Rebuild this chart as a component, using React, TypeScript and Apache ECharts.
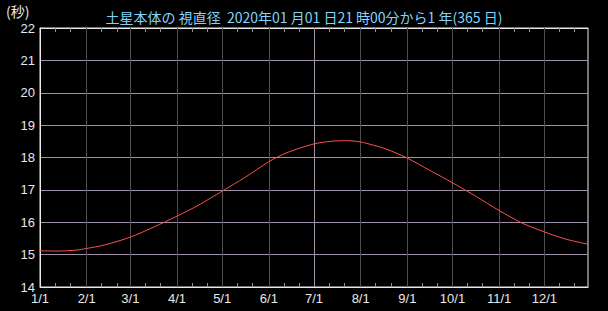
import React, { useEffect, useRef } from "react";
import * as echarts from "echarts";

// Days after 2020-01-01 21:00 and Saturn's apparent diameter (arcsec)
const dayOffsets = [0, 12, 24, 31, 43, 60, 76, 91, 105, 121, 136, 152, 164, 182, 193, 203, 213, 230, 244, 259, 274, 290, 305, 320, 335, 350, 364];
const diameterArcsec = [15.12, 15.11, 15.14, 15.19, 15.30, 15.54, 15.86, 16.19, 16.52, 16.96, 17.38, 17.87, 18.15, 18.42, 18.50, 18.52, 18.48, 18.26, 17.98, 17.60, 17.22, 16.79, 16.36, 15.98, 15.70, 15.47, 15.32];

const monthStartDays = [0, 31, 60, 91, 121, 152, 182, 213, 244, 274, 305, 335];
const monthLabels = ["1/1", "2/1", "3/1", "4/1", "5/1", "6/1", "7/1", "8/1", "9/1", "10/1", "11/1", "12/1"];
const yTicks = [14, 15, 16, 17, 18, 19, 20, 21, 22];

const titleText = "土星本体の 視直径  2020年01 月01 日21 時00分から1 年(365 日)";
const unitText = "(秒)";

export default function App() {
  const ref = useRef<HTMLDivElement>(null);
  useEffect(() => {
    document.body.style.margin = "0";
    document.body.style.background = "#000";
    const chart = echarts.init(ref.current!, null, { renderer: "svg" });
    const minorTicks: number[] = [];
    monthStartDays.forEach((d) => {
      minorTicks.push(d + 10, d + 20);
    });
    const font = "'Noto Sans CJK JP', 'DejaVu Sans', sans-serif";
    const numFont = "'Liberation Sans', sans-serif";
    chart.setOption({
      animation: false,
      backgroundColor: "#000000",
      title: {
        text: titleText,
        left: "center",
        top: 5,
        textStyle: { color: "#80d4ff", fontSize: 14, fontWeight: "normal", fontFamily: font },
      },
      graphic: [
        {
          type: "text",
          left: 6,
          top: 4,
          style: { text: unitText, fill: "#e8e8e8", fontSize: 14, fontFamily: font },
        },
      ],
      grid: {
        left: 40,
        right: 20,
        top: 28,
        bottom: 24,
        show: true,
        borderColor: "#e8e8e8",
        borderWidth: 1,
        backgroundColor: "transparent",
      },
      xAxis: [
        {
          type: "value",
          min: 0,
          max: 364,
          position: "bottom",
          axisLine: { show: true, lineStyle: { color: "#e8e8e8" } },
          splitLine: { show: false },
          axisTick: {
            show: true,
            inside: true,
            length: 4,
            customValues: minorTicks,
            lineStyle: { color: "#909090" },
          },
          axisLabel: {
            customValues: monthStartDays,
            color: "#e8e8e8",
            fontSize: 13,
            fontFamily: numFont,
            margin: 5,
            formatter: (v: number) => {
              const i = monthStartDays.indexOf(Math.round(v));
              return i >= 0 ? monthLabels[i] : "";
            },
          },
        },
        {
          type: "value",
          min: 0,
          max: 364,
          position: "top",
          axisLine: { show: true, lineStyle: { color: "#e8e8e8" } },
          splitLine: { show: false },
          axisTick: {
            show: true,
            inside: true,
            length: 4,
            customValues: minorTicks,
            lineStyle: { color: "#909090" },
          },
          axisLabel: { show: false },
        },
      ],
      yAxis: {
        type: "value",
        min: 14,
        max: 22,
        interval: 1,
        axisLine: { show: true, lineStyle: { color: "#e8e8e8" } },
        axisTick: { show: false },
        splitLine: { show: true, lineStyle: { color: "#a090a8", width: 1 } },
        axisLabel: {
          color: "#e8e8e8",
          fontSize: 13,
          fontFamily: numFont,
          margin: 5,
          formatter: (v: number) => (yTicks.indexOf(v) >= 0 ? String(v) : ""),
        },
      },
      series: [
        {
          type: "line",
          xAxisIndex: 0,
          data: [],
          z: 1,
          silent: true,
          markLine: {
            silent: true,
            symbol: "none",
            label: { show: false },
            data: monthStartDays.slice(1).map((d) => ({
              xAxis: d,
              lineStyle: {
                color: d === 182 ? "#a090a8" : "#505050",
                width: 1,
                type: "solid",
              },
            })),
          },
        },
        {
          type: "line",
          xAxisIndex: 0,
          z: 5,
          showSymbol: false,
          smooth: 0.25,
          lineStyle: { color: "#ff5050", width: 1 },
          data: dayOffsets.map((d, i) => [d, diameterArcsec[i]]),
        },
      ],
    });
    return () => chart.dispose();
  }, []);
  return <div ref={ref} style={{ width: 608, height: 311 }} />;
}
